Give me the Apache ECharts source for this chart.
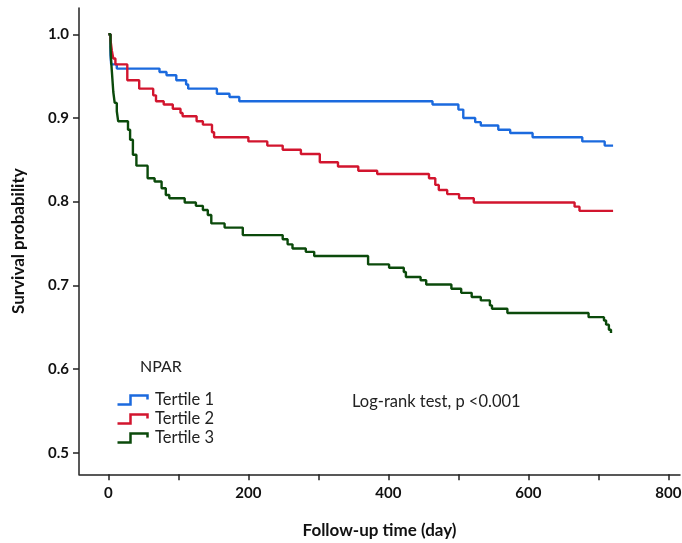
<!DOCTYPE html>
<html><head><meta charset="utf-8">
<script src="https://cdn.jsdelivr.net/npm/echarts@6/dist/echarts.min.js"></script>
<style>html,body{margin:0;padding:0;background:#fff}#chart{width:682px;height:543px}</style>
</head><body><div id="chart"></div>
<script>
const seriesNames = ['Tertile 1', 'Tertile 2', 'Tertile 3'];

const tertile1Time = [0, 3, 4, 12, 73, 83, 97, 111, 114, 155, 173, 187, 463, 500, 507, 524, 532, 557, 574, 606, 677, 709, 721];
const tertile1Surv = [1.0, 0.975, 0.964, 0.959, 0.955, 0.951, 0.945, 0.940, 0.935, 0.929, 0.925, 0.920, 0.916, 0.910, 0.900, 0.895, 0.891, 0.886, 0.882, 0.877, 0.872, 0.867, 0.867];

const tertile2Time = [0, 3, 5, 7, 10, 27, 44, 64, 68, 79, 92, 103, 106, 126, 135, 148, 151, 200, 227, 249, 275, 302, 328, 357, 384, 458, 467, 472, 484, 501, 522, 666, 673, 721];
const tertile2Surv = [1.0, 0.993, 0.980, 0.971, 0.964, 0.945, 0.935, 0.927, 0.920, 0.916, 0.911, 0.906, 0.902, 0.896, 0.892, 0.883, 0.877, 0.872, 0.867, 0.862, 0.857, 0.847, 0.842, 0.837, 0.833, 0.828, 0.820, 0.814, 0.809, 0.804, 0.799, 0.794, 0.789, 0.789];

const tertile3Time = [0, 3, 4, 5, 7, 9, 12, 14, 28, 31, 35, 40, 56, 66, 76, 82, 87, 109, 125, 135, 142, 147, 166, 192, 249, 256, 263, 282, 294, 371, 401, 422, 425, 446, 454, 490, 504, 519, 532, 545, 548, 570, 686, 708, 711, 715, 718];
const tertile3Surv = [1.0, 0.985, 0.967, 0.955, 0.931, 0.918, 0.908, 0.896, 0.886, 0.874, 0.856, 0.843, 0.828, 0.824, 0.816, 0.808, 0.804, 0.799, 0.795, 0.790, 0.784, 0.774, 0.769, 0.760, 0.755, 0.749, 0.744, 0.740, 0.735, 0.725, 0.721, 0.716, 0.710, 0.706, 0.701, 0.696, 0.691, 0.686, 0.682, 0.676, 0.672, 0.667, 0.662, 0.658, 0.653, 0.647, 0.643];

const xTickValues = [0, 100, 200, 300, 400, 500, 600, 700, 800];
const xLabelValues = [0, 200, 400, 600, 800];
const yLabelValues = [0.5, 0.6, 0.7, 0.8, 0.9, 1.0];

const legendTitle = 'NPAR';
const annotation = 'Log-rank test, p <0.001';
const xTitle = 'Follow-up time (day)';
const yTitle = 'Survival probability';

const colors = ['#1b6ade', '#d2152e', '#0b4a0b'];
const times = [tertile1Time, tertile2Time, tertile3Time];
const survs = [tertile1Surv, tertile2Surv, tertile3Surv];

const chart = echarts.init(document.getElementById('chart'), null, {renderer: 'canvas'});
const axisFont = {fontFamily: 'Lato', fontSize: 15, fontWeight: 'bold', color: '#111'};
const titleFont = {fontFamily: 'Lato', fontSize: 17, fontWeight: 'bold', color: '#111'};

chart.setOption({
  animation: false,
  backgroundColor: '#fff',
  grid: {left: 79, right: 2, top: 8, bottom: 68.7, containLabel: false, outerBoundsMode: 'none'},
  title: {
    text: legendTitle, left: 140, top: 359, padding: 0,
    textStyle: {fontFamily: 'Lato', fontSize: 16, fontWeight: 'normal', color: '#222'}
  },
  legend: {
    orient: 'vertical', left: 110, top: 386.5, itemWidth: 31, itemHeight: 9, itemGap: 2,
    icon: 'path://M0,9 L13,9 L13,0 L30,0 L30,4',
    textStyle: {fontFamily: 'Lato', fontSize: 16.5, color: '#222', lineHeight: 16, padding: [0, 0, 0, 2]},
    data: seriesNames.map((n, i) => ({name: n, itemStyle: {color: 'none', borderColor: colors[i], borderWidth: 2.5}}))
  },
  graphic: [{
    type: 'text', left: 352, top: 393,
    style: {text: annotation, font: '16.5px Lato', fill: '#222'}
  }],
  xAxis: {
    type: 'value', min: -42, max: 816.6,
    name: xTitle, nameLocation: 'middle', nameGap: 48,
    nameTextStyle: titleFont,
    axisLine: {show: true, onZero: false, lineStyle: {color: '#222', width: 1.5}},
    axisTick: {show: true, length: 6, customValues: xTickValues, lineStyle: {color: '#222', width: 1.5}},
    axisLabel: {customValues: xLabelValues, margin: 11, ...axisFont},
    splitLine: {show: false}
  },
  yAxis: {
    type: 'value', min: 0.4742, max: 1.0314,
    name: yTitle, nameLocation: 'middle', nameGap: 52,
    nameTextStyle: titleFont,
    axisLine: {show: true, onZero: false, lineStyle: {color: '#222', width: 1.5}},
    axisTick: {show: true, length: 6, customValues: yLabelValues, lineStyle: {color: '#222', width: 1.5}},
    axisLabel: {customValues: yLabelValues, margin: 10, formatter: v => v.toFixed(1), ...axisFont},
    splitLine: {show: false}
  },
  series: seriesNames.map((n, i) => ({
    name: n, type: 'line', step: 'end', showSymbol: false, symbol: 'none',
    color: colors[i],
    lineStyle: {color: colors[i], width: 2.4},
    data: times[i].map((t, j) => [t, survs[i][j]])
  }))
});
</script>
</body></html>
